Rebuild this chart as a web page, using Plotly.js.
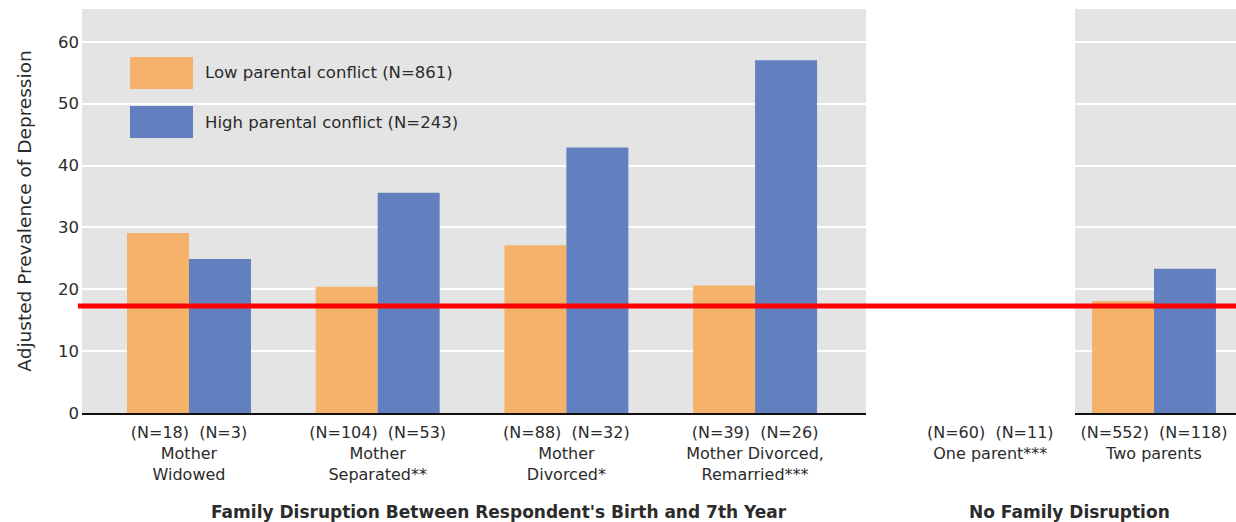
<!DOCTYPE html>
<html>
<head>
<meta charset="utf-8">
<script src="https://cdn.plot.ly/plotly-3.0.1.min.js"></script>
<style>html,body{margin:0;padding:0;background:#fff;}#chart{width:1236px;height:522px;}</style>
</head>
<body>
<div id="chart"></div>
<script>
// ---- data ----
const seriesNames = ["Low parental conflict (N=861)", "High parental conflict (N=243)"];
const disruptedCategories = ["Mother Widowed", "Mother Separated**", "Mother Divorced*", "Mother Divorced, Remarried***"];
const disruptedTickLabels = [
  "(N=18)  (N=3)<br>Mother<br>Widowed",
  "(N=104)  (N=53)<br>Mother<br>Separated**",
  "(N=88)  (N=32)<br>Mother<br>Divorced*",
  "(N=39)  (N=26)<br>Mother Divorced,<br>Remarried***"
];
const lowDisrupted = [29.1, 20.4, 27.1, 20.6];
const highDisrupted = [24.9, 35.6, 42.9, 57.0];
const intactCategories = ["Two parents"];
const intactTickLabels = ["(N=552)  (N=118)<br>Two parents"];
const lowIntact = [18.1];
const highIntact = [23.3];
const hiddenCategoryLabel = "(N=60)  (N=11)<br>One parent***";
const referenceLevel = 17.3;
const groupTitles = ["Family Disruption Between Respondent's Birth and 7th Year", "No Family Disruption"];
const yTitle = "Adjusted Prevalence of Depression";

const colors = ["#f4b26a", "#627fbf"];
const FONT = "DejaVu Sans, Open Sans, sans-serif";
const TXT = "#2b2b2b";

const traces = [
  {type: "bar", x: disruptedCategories, y: lowDisrupted, name: seriesNames[0], marker: {color: colors[0]}, xaxis: "x", yaxis: "y", showlegend: false, hoverinfo: "y"},
  {type: "bar", x: disruptedCategories, y: highDisrupted, name: seriesNames[1], marker: {color: colors[1]}, xaxis: "x", yaxis: "y", showlegend: false, hoverinfo: "y"},
  {type: "bar", x: intactCategories, y: lowIntact, name: seriesNames[0], marker: {color: colors[0]}, xaxis: "x2", yaxis: "y", showlegend: false, hoverinfo: "y"},
  {type: "bar", x: intactCategories, y: highIntact, name: seriesNames[1], marker: {color: colors[1]}, xaxis: "x2", yaxis: "y", showlegend: false, hoverinfo: "y"}
];

const tickFont = {family: FONT, size: 16, color: TXT};

const layout = {
  width: 1236, height: 522,
  margin: {l: 82, r: 0, t: 9, b: 109},
  paper_bgcolor: "#ffffff",
  plot_bgcolor: "#e4e4e4",
  barmode: "group",
  bargap: 0.343,
  bargroupgap: 0,
  showlegend: false,
  font: {family: FONT, color: TXT},
  xaxis: {
    domain: [0, 0.6794],
    type: "category",
    range: [-0.567, 3.588],
    tickmode: "array",
    tickvals: disruptedCategories,
    ticktext: disruptedTickLabels,
    tickfont: tickFont,
    showgrid: false,
    showline: true, linecolor: "#111", linewidth: 2,
    ticks: "",
    ticklabelstandoff: 4,
    fixedrange: true
  },
  xaxis2: {
    domain: [0.8605, 1],
    type: "category",
    range: [-0.419, 0.435],
    tickmode: "array",
    tickvals: intactCategories,
    ticktext: intactTickLabels,
    tickfont: tickFont,
    showgrid: false,
    showline: true, linecolor: "#111", linewidth: 2,
    ticks: "",
    ticklabelstandoff: 4,
    anchor: "y",
    fixedrange: true
  },
  yaxis: {
    range: [0, 65.3],
    tickvals: [0, 10, 20, 30, 40, 50, 60],
    tickfont: {family: FONT, size: 16.5, color: TXT},
    gridcolor: "#ffffff", gridwidth: 2,
    zeroline: false,
    showline: false,
    ticks: "",
    ticklabelstandoff: 2,
    title: {text: yTitle, font: {family: FONT, size: 18.5, color: TXT}, standoff: 21},
    fixedrange: true
  },
  shapes: [
    {type: "rect", xref: "paper", yref: "paper", x0: 0.0416, x1: 0.0962, y0: 0.802, y1: 0.881, fillcolor: colors[0], line: {width: 0}},
    {type: "rect", xref: "paper", yref: "paper", x0: 0.0416, x1: 0.0962, y0: 0.681, y1: 0.760, fillcolor: colors[1], line: {width: 0}},
    {type: "line", xref: "paper", yref: "y", x0: -0.0035, x1: 1, y0: referenceLevel, y1: referenceLevel, line: {color: "#ff0000", width: 5}, layer: "above"}
  ],
  annotations: [
    {xref: "paper", yref: "paper", x: 0.1049, y: 0.842, xanchor: "left", yanchor: "middle", text: seriesNames[0], showarrow: false, font: {family: FONT, size: 16.5, color: TXT}},
    {xref: "paper", yref: "paper", x: 0.1049, y: 0.720, xanchor: "left", yanchor: "middle", text: seriesNames[1], showarrow: false, font: {family: FONT, size: 16.5, color: TXT}},
    {xref: "paper", yref: "paper", x: 0.787, y: -0.02, xanchor: "center", yanchor: "top", text: hiddenCategoryLabel, showarrow: false, font: tickFont, align: "center"},
    {xref: "paper", yref: "paper", x: 0.361, y: -0.245, xanchor: "center", yanchor: "middle", text: groupTitles[0], showarrow: false, font: {family: FONT, size: 17, color: TXT, weight: 600}},
    {xref: "paper", yref: "paper", x: 0.856, y: -0.245, xanchor: "center", yanchor: "middle", text: groupTitles[1], showarrow: false, font: {family: FONT, size: 17, color: TXT, weight: 600}}
  ]
};

Plotly.newPlot("chart", traces, layout, {displayModeBar: false, staticPlot: true});
</script>
</body>
</html>
